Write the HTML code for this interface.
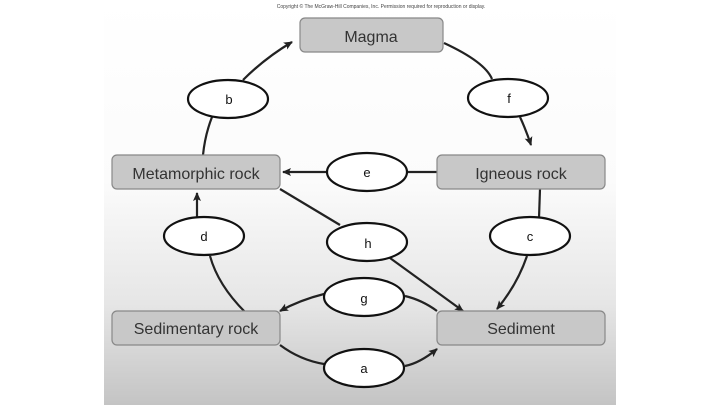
<!DOCTYPE html>
<html><head><meta charset="utf-8"><style>
html,body{margin:0;padding:0;background:#fff;width:720px;height:405px;overflow:hidden}
svg{display:block}
text{font-family:"Liberation Sans",sans-serif}
</style></head><body>
<svg width="720" height="405" viewBox="0 0 720 405">
<defs>
<linearGradient id="bg" x1="0" y1="0" x2="0" y2="1">
<stop offset="0" stop-color="#ffffff"/>
<stop offset="0.45" stop-color="#fbfbfb"/>
<stop offset="0.75" stop-color="#e6e6e6"/>
<stop offset="1" stop-color="#c4c4c4"/>
</linearGradient>
<marker id="ar" markerWidth="10" markerHeight="10" refX="8" refY="5" orient="auto" markerUnits="userSpaceOnUse">
<path d="M0,1 L9,5 L0,9 L2,5 Z" fill="#222"/>
</marker>
</defs>
<rect x="104" y="0" width="512" height="405" fill="url(#bg)"/>
<text x="381" y="8" font-size="5" text-anchor="middle" fill="#444">Copyright © The McGraw-Hill Companies, Inc. Permission required for reproduction or display.</text>

<g fill="none" stroke="#222" stroke-width="2.2">
<!-- b -->
<path d="M203,155 Q205,135 212,117"/>
<path d="M243,80 Q265,58 292,42" marker-end="url(#ar)"/>
<!-- f -->
<path d="M444,43 Q485,62 492,79"/>
<path d="M520,117 Q526,130 531,145" marker-end="url(#ar)"/>
<!-- e -->
<path d="M437,172 L407,172"/>
<path d="M327,172 L283,172" marker-end="url(#ar)"/>
<!-- d -->
<path d="M245,312 Q218,285 210,256"/>
<path d="M197,217 L197,193" marker-end="url(#ar)"/>
<!-- h -->
<path d="M280,189 L340,225"/>
<path d="M390,258 L463,311" marker-end="url(#ar)"/>
<!-- c -->
<path d="M540,189 L539,218"/>
<path d="M527,256 Q517,285 497,309" marker-end="url(#ar)"/>
<!-- g -->
<path d="M437,311 Q422,300 405,296"/>
<path d="M324,294 Q300,300 280,311" marker-end="url(#ar)"/>
<!-- a -->
<path d="M280,345 Q300,360 324,364"/>
<path d="M405,366 Q420,363 437,349" marker-end="url(#ar)"/>
</g>

<g fill="#c8c8c8" stroke="#888" stroke-width="1.2">
<rect x="300" y="18" width="143" height="34" rx="5"/>
<rect x="112" y="155" width="168" height="34" rx="5"/>
<rect x="437" y="155" width="168" height="34" rx="5"/>
<rect x="112" y="311" width="168" height="34" rx="5"/>
<rect x="437" y="311" width="168" height="34" rx="5"/>
</g>
<g font-size="16" fill="#333" text-anchor="middle">
<text x="371" y="42">Magma</text>
<text x="196" y="179">Metamorphic rock</text>
<text x="521" y="179">Igneous rock</text>
<text x="196" y="334">Sedimentary rock</text>
<text x="521" y="334">Sediment</text>
</g>

<g fill="#fff" stroke="#111" stroke-width="2.2">
<ellipse cx="228" cy="99" rx="40" ry="19"/>
<ellipse cx="508" cy="98" rx="40" ry="19"/>
<ellipse cx="367" cy="172" rx="40" ry="19"/>
<ellipse cx="204" cy="236" rx="40" ry="19"/>
<ellipse cx="367" cy="242" rx="40" ry="19"/>
<ellipse cx="530" cy="236" rx="40" ry="19"/>
<ellipse cx="364" cy="297" rx="40" ry="19"/>
<ellipse cx="364" cy="368" rx="40" ry="19"/>
</g>
<g font-size="13" fill="#111" text-anchor="middle">
<text x="229" y="104">b</text>
<text x="509" y="103">f</text>
<text x="367" y="177">e</text>
<text x="204" y="241">d</text>
<text x="368" y="248">h</text>
<text x="530" y="241">c</text>
<text x="364" y="303">g</text>
<text x="364" y="373">a</text>
</g>
</svg>
</body></html>
